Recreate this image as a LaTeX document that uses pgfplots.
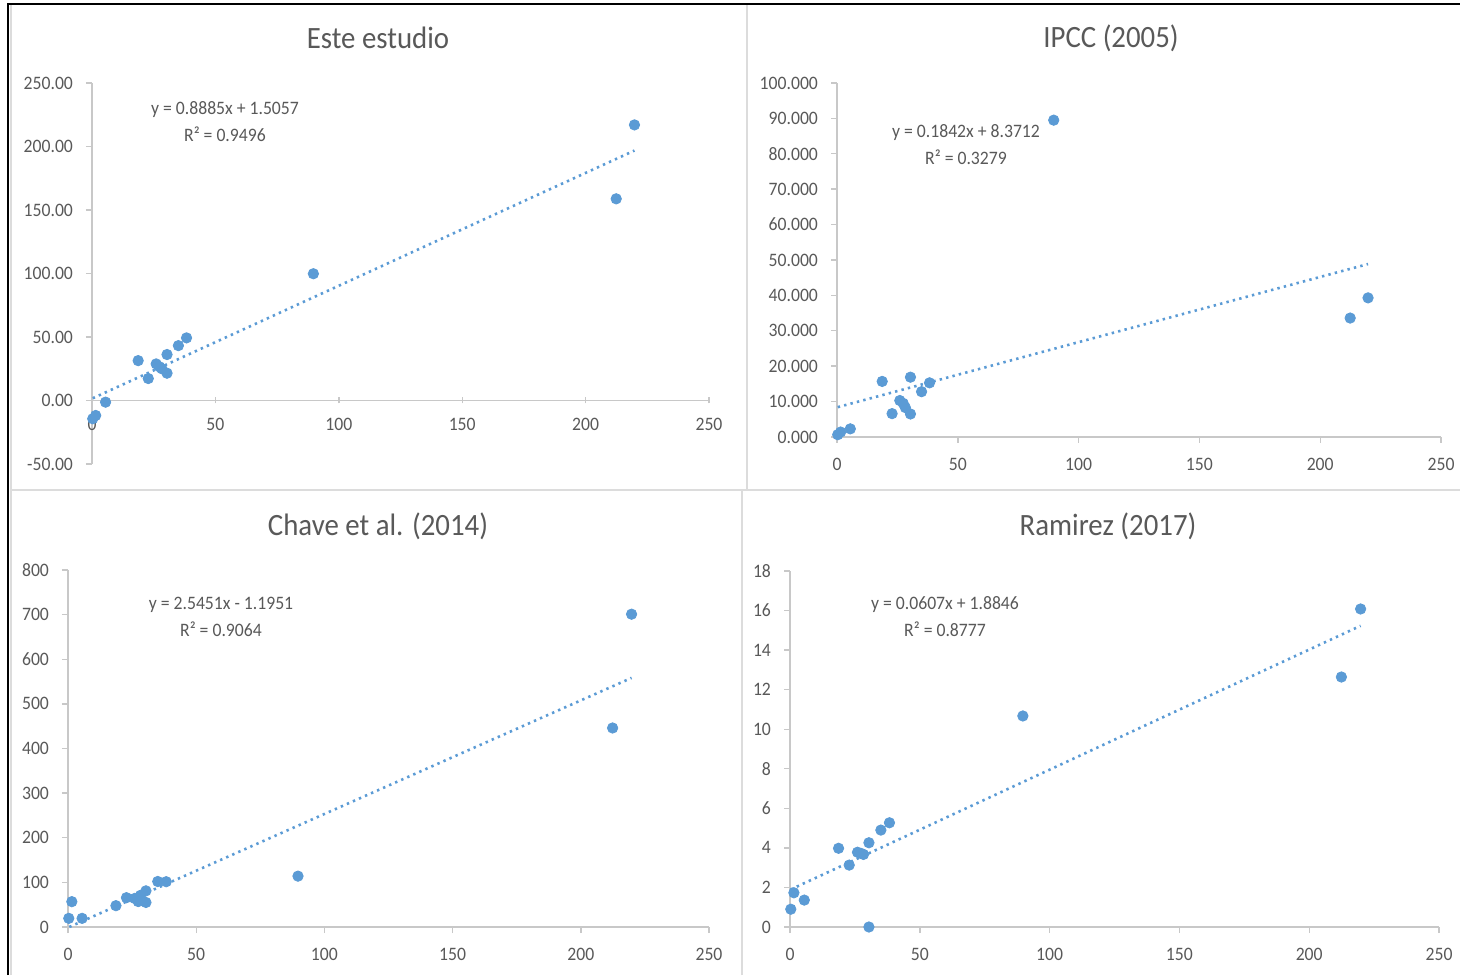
\documentclass[border=0pt]{standalone}
\usepackage{fontspec}
\setmainfont{Carlito}[FakeStretch=0.93]
\usepackage{pgfplots}
\pgfplotsset{compat=1.18}
\usepackage{pgfplotstable}
\definecolor{mk}{HTML}{5B9BD5}
\definecolor{txt}{HTML}{595959}
\definecolor{axg}{HTML}{C8C8C8}
\definecolor{sep}{HTML}{DCDCDC}

\pgfplotstableread{
x y
0.3 -14.4
1.5 -11.8
5.5 -1.3
18.7 31.4
22.8 17.3
26.0 28.8
27.4 26.5
28.3 25.0
30.4 36.2
30.4 21.5
35.0 43.2
38.3 49.3
89.7 99.8
212.4 158.8
219.8 217.0
}\estudio
\pgfplotstableread{
x y
0.3 0.65
1.5 1.4
5.5 2.3
18.7 15.7
22.8 6.6
26.0 10.3
27.4 9.5
28.3 8.3
30.4 16.9
30.4 6.5
35.0 12.8
38.3 15.3
89.7 89.5
212.4 33.6
219.8 39.3
}\ipcc
\pgfplotstableread{
x y
0.3 19.4
1.5 56.8
5.5 19.4
18.7 47.8
22.8 65.7
26.0 64.0
27.4 57.0
28.3 71.0
30.4 81.0
30.4 55.0
35.0 102.0
38.3 101.5
89.7 114.0
212.4 446.0
219.8 701.0
}\chave
\pgfplotstableread{
x y
0.3 0.90
1.5 1.73
5.5 1.36
18.7 3.98
22.8 3.13
26.0 3.78
27.4 3.72
28.3 3.67
30.4 4.26
30.4 0.00
35.0 4.90
38.3 5.27
89.7 10.67
212.4 12.64
219.8 16.08
}\ramirez

\pgfplotsset{
  panel/.style={
    scale only axis, anchor=south west,
    axis x line=bottom, axis y line=left,
    axis line style={draw=axg, line width=0.7pt, -},
    every inner x axis line/.append style={-},
    every outer x axis line/.append style={-},
    every outer y axis line/.append style={-},
    tick style={draw=axg, line width=0.7pt},
    major tick length=3pt, tick align=outside,
    xmin=0, xmax=250, xtick={0,50,100,150,200,250},
    tick label style={font=\fontsize{9.5}{11}\selectfont, text=txt},
    /pgf/number format/assume math mode=true,
    xticklabel style={yshift=-4pt},
    yticklabel style={xshift=-3pt},
    clip=false,
  },
  pts/.style={only marks, mark=*, mark size=2.6pt, color=mk, mark options={solid, draw=mk, fill=mk}},
  trend/.style={no marks, draw=mk, line width=1.3pt, dash pattern=on 1.2pt off 2.1pt},
}

\begin{document}
\begin{tikzpicture}
\path[use as bounding box] (0,0) rectangle (730pt,487.5pt);
\fill[white] (0,0) rectangle (730pt,487.5pt);

% separators
\draw[sep, line width=1pt] (5.5pt,0) -- (5.5pt,485pt);
\draw[sep, line width=1pt] (373.25pt,242.5pt) -- (373.25pt,485pt);
\draw[sep, line width=1pt] (5.5pt,242.5pt) -- (730pt,242.5pt);
\draw[sep, line width=1pt] (370.75pt,0) -- (370.75pt,242.5pt);
% black frame
\draw[black, line width=1.1pt] (4pt,0) -- (4pt,485.3pt) -- (730pt,485.3pt);

% Panel 1
\begin{axis}[panel, at={(46pt,255.5pt)}, width=308.5pt, height=190.5pt,
  axis x line=middle, ymin=-50, ymax=250, ytick={-50,0,50,100,150,200,250},
  x axis line style={-},
  yticklabel style={/pgf/number format/.cd, fixed, fixed zerofill, precision=2},
  hide obscured x ticks=false]
\addplot[trend] coordinates {(0.3,1.77) (219.8,196.8)};
\addplot[pts] table {\estudio};
\end{axis}

% Panel 2
\begin{axis}[panel, at={(418.5pt,269pt)}, width=302pt, height=177pt,
  ymin=0, ymax=100, ytick={0,10,...,100},
  yticklabel style={/pgf/number format/.cd, fixed, fixed zerofill, precision=3}]
\addplot[trend] coordinates {(0.3,8.43) (219.8,48.86)};
\addplot[pts] table {\ipcc};
\end{axis}

% Panel 3
\begin{axis}[panel, at={(34pt,24pt)}, width=320.5pt, height=178.5pt,
  ymin=0, ymax=800, ytick={0,100,...,800}]
\addplot[trend] coordinates {(0.5,0.08) (219.8,558.2)};
\addplot[pts] table {\chave};
\end{axis}

% Panel 4
\begin{axis}[panel, at={(395pt,24pt)}, width=324.5pt, height=178pt,
  ymin=0, ymax=18, ytick={0,2,...,18}]
\addplot[trend] coordinates {(0.3,1.90) (219.8,15.23)};
\addplot[pts] table {\ramirez};
\end{axis}

% titles
\begin{scope}[every node/.style={text=txt, font=\fontsize{15.5}{18}\selectfont, inner sep=0pt}]
\node at (189pt,468.5pt) {Este estudio};
\node at (555.5pt,468.5pt) {IPCC (2005)};
\node at (189pt,224.5pt) {Chave et al. (2014)};
\node at (554pt,224.5pt) {Ramirez (2017)};
\end{scope}
% equations
\begin{scope}[every node/.style={text=txt, font=\fontsize{9.5}{11}\selectfont, inner sep=0pt}]
\node at (112.5pt,432.5pt) {y = 0.8885x + 1.5057};
\node at (112.5pt,420.5pt) {R² = 0.9496};
\node at (483pt,421pt) {y = 0.1842x + 8.3712};
\node at (483pt,409pt) {R² = 0.3279};
\node at (110.5pt,185pt) {y = 2.5451x - 1.1951};
\node at (110.5pt,173pt) {R² = 0.9064};
\node at (472.5pt,185pt) {y = 0.0607x + 1.8846};
\node at (472.5pt,173pt) {R² = 0.8777};
\end{scope}
\end{tikzpicture}
\end{document}
